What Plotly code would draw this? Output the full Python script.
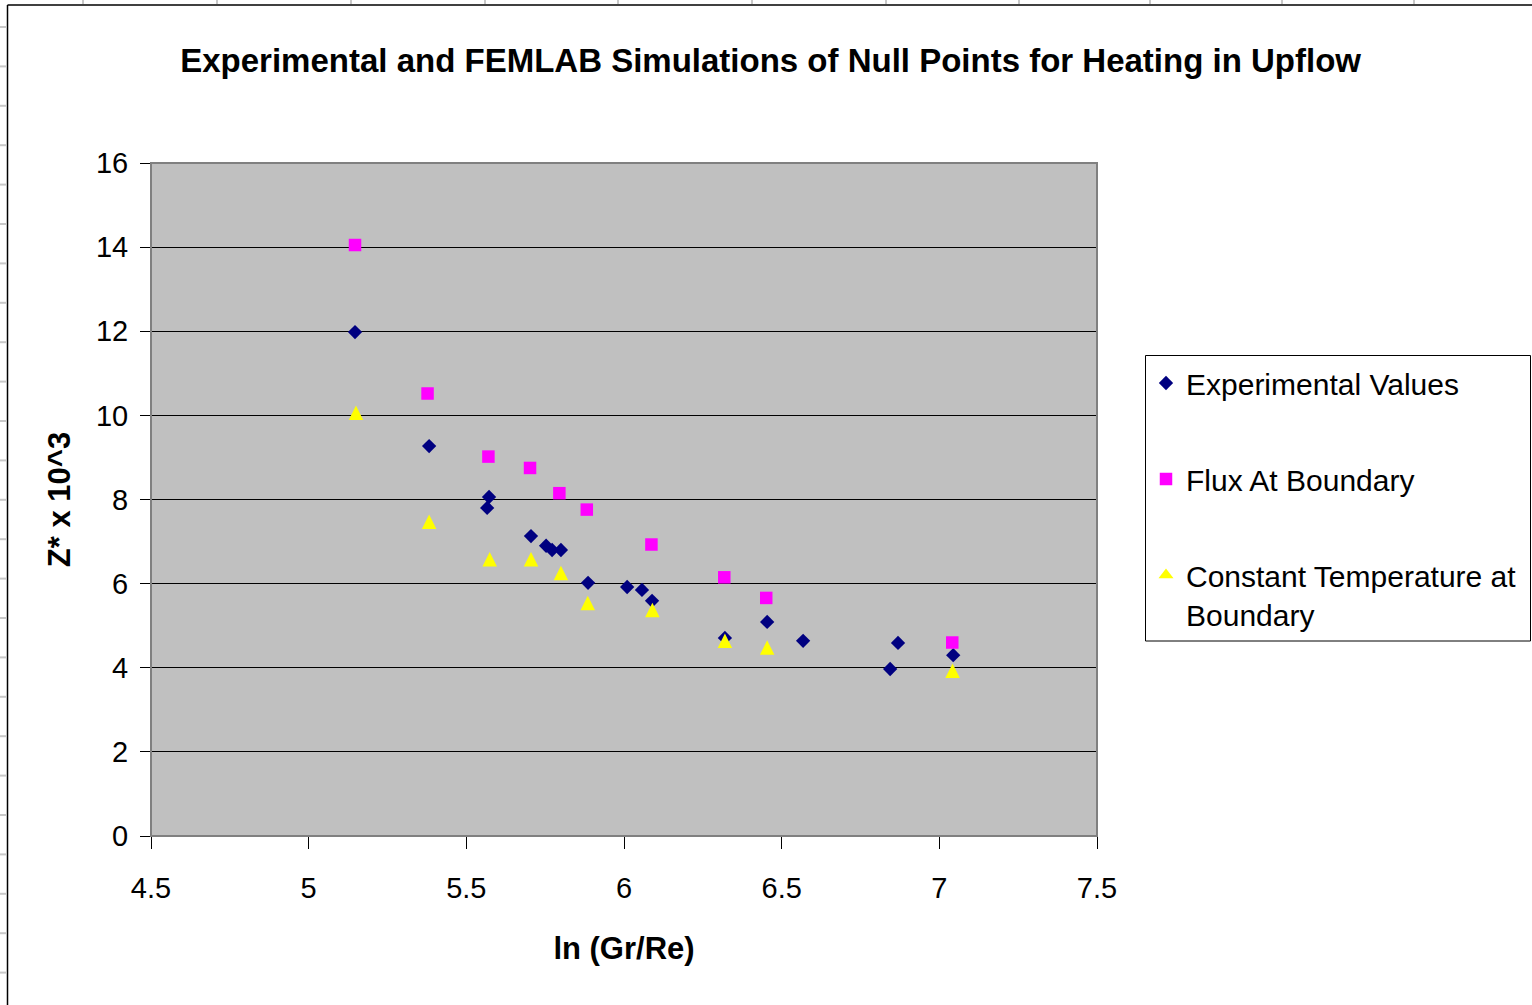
import plotly.graph_objects as go

# ---- data ----
exp_x = [5.147, 5.382, 5.572, 5.566, 5.705, 5.753, 5.772, 5.800, 5.886, 6.010,
         6.057, 6.089, 6.320, 6.454, 6.568, 6.844, 6.869, 7.044]
exp_y = [11.98, 9.27, 8.06, 7.80, 7.13, 6.90, 6.80, 6.80, 6.02, 5.92,
         5.85, 5.59, 4.71, 5.09, 4.64, 3.97, 4.59, 4.30]

flux_x = [5.147, 5.377, 5.570, 5.702, 5.795, 5.882, 6.087, 6.318, 6.451, 7.041]
flux_y = [14.05, 10.52, 9.02, 8.75, 8.15, 7.76, 6.93, 6.15, 5.66, 4.60]

temp_x = [5.150, 5.382, 5.574, 5.705, 5.800, 5.885, 6.090, 6.320, 6.454, 7.042]
temp_y = [10.06, 7.47, 6.58, 6.58, 6.25, 5.54, 5.37, 4.64, 4.48, 3.93]

series_names = ["Experimental Values", "Flux At Boundary",
                "Constant Temperature at<br>Boundary"]

x_ticks = [4.5, 5, 5.5, 6, 6.5, 7, 7.5]
x_tick_text = ["4.5", "5", "5.5", "6", "6.5", "7", "7.5"]
y_ticks = [0, 2, 4, 6, 8, 10, 12, 14, 16]

title_text = "Experimental and FEMLAB Simulations of Null Points for Heating in Upflow"
x_title = "ln (Gr/Re)"
y_title = "Z* x 10^3"

# ---- layout geometry (pixels in a 1532x1005 page) ----
W, H = 1532, 1005
L, R, T, B = 151, 1097, 163, 836
FONT = "Liberation Sans, Arial, sans-serif"


def px2x(px):
    return (px - L) / (R - L)


def py2y(py):
    return (B - py) / (B - T)


TRI = 14.5  # triangle marker size (width == height, like Excel's)

fig = go.Figure()
fig.add_trace(go.Scatter(
    x=exp_x, y=exp_y, mode="markers", name=series_names[0], legendgroup="a",
    marker=dict(symbol="diamond", size=11, color="#000080",
                line=dict(width=0))))
fig.add_trace(go.Scatter(
    x=flux_x, y=flux_y, mode="markers", name=series_names[1], legendgroup="b",
    marker=dict(symbol="square", size=12.5, color="#FF00FF",
                line=dict(width=0))))
# centred, equal-sided triangle in the plot
fig.add_trace(go.Scatter(
    x=temp_x, y=temp_y, mode="markers", name=series_names[2], legendgroup="c",
    showlegend=False,
    marker=dict(symbol="arrow-down", angle=180, size=TRI, standoff=TRI / 2,
                color="#FFFF00", line=dict(width=0))))
# legend entry for that series (the legend ignores the marker standoff)
fig.add_trace(go.Scatter(
    x=[None], y=[None], mode="markers", name=series_names[2], legendgroup="c",
    marker=dict(symbol="triangle-up", size=13, color="#FFFF00",
                line=dict(width=0))))

shapes = []
# plot-area border (grey)
shapes.append(dict(type="rect", xref="paper", yref="paper", x0=0, y0=0, x1=1, y1=1,
                   line=dict(color="#808080", width=2), layer="above"))
# legend frame
shapes.append(dict(type="rect", xref="paper", yref="paper",
                   x0=px2x(1145.5), x1=px2x(1530.5), y0=py2y(641), y1=py2y(355.5),
                   line=dict(color="black", width=1)))
# chart-area frame (black) at top and left
shapes.append(dict(type="line", xref="paper", yref="paper",
                   x0=px2x(7.5), x1=px2x(W + 5), y0=py2y(5), y1=py2y(5),
                   line=dict(color="black", width=1.5)))
shapes.append(dict(type="line", xref="paper", yref="paper",
                   x0=px2x(7.5), x1=px2x(7.5), y0=py2y(5), y1=py2y(H + 5),
                   line=dict(color="black", width=1.5)))
# spreadsheet cell grid peeking out around the chart
for gx in [83, 217, 351, 485, 618, 752, 886, 1019, 1150, 1282, 1414]:
    shapes.append(dict(type="line", xref="paper", yref="paper",
                       x0=px2x(gx), x1=px2x(gx), y0=py2y(-2), y1=py2y(4),
                       line=dict(color="#c8c8c8", width=2)))
for i in range(26):
    gy = 27 + i * 39.4
    shapes.append(dict(type="line", xref="paper", yref="paper",
                       x0=px2x(-2), x1=px2x(6.5), y0=py2y(gy), y1=py2y(gy),
                       line=dict(color="#c8c8c8", width=2)))

fig.update_layout(
    width=W, height=H,
    margin=dict(l=L, r=W - R, t=T, b=H - B, pad=0, autoexpand=False),
    paper_bgcolor="white",
    plot_bgcolor="#C0C0C0",
    font=dict(family=FONT, color="black"),
    title=dict(text="<b>" + title_text + "</b>", x=0.503, xref="container",
               xanchor="center", y=1 - 60 / H, yref="container", yanchor="middle",
               font=dict(size=33, family=FONT, color="black")),
    showlegend=True,
    legend=dict(x=px2x(1146), y=py2y(357), xanchor="left", yanchor="top",
                xref="paper", yref="paper",
                bgcolor="rgba(0,0,0,0)", borderwidth=0,
                font=dict(size=30, family=FONT, color="black"),
                tracegroupgap=54, itemsizing="trace", valign="top"),
    shapes=shapes,
    xaxis=dict(range=[4.5, 7.5], tickmode="array", tickvals=x_ticks,
               ticktext=x_tick_text, showgrid=False, zeroline=False,
               showline=True, linecolor="black", linewidth=1,
               ticks="outside", ticklen=12, tickcolor="black", tickwidth=1,
               ticklabelstandoff=14,
               tickfont=dict(size=29, family=FONT, color="black"),
               title=dict(text="<b>" + x_title + "</b>", standoff=34,
                          font=dict(size=31, family=FONT, color="black"))),
    yaxis=dict(range=[0, 16], tickmode="array", tickvals=y_ticks,
               showgrid=True, gridcolor="black", gridwidth=1, zeroline=False,
               showline=True, linecolor="black", linewidth=1,
               ticks="outside", ticklen=10, tickcolor="black", tickwidth=1,
               ticklabelstandoff=6,
               tickfont=dict(size=29, family=FONT, color="black"),
               title=dict(text="<b>" + y_title + "</b>", standoff=16,
                          font=dict(size=31, family=FONT, color="black"))),
)

fig.write_html("out.html")
